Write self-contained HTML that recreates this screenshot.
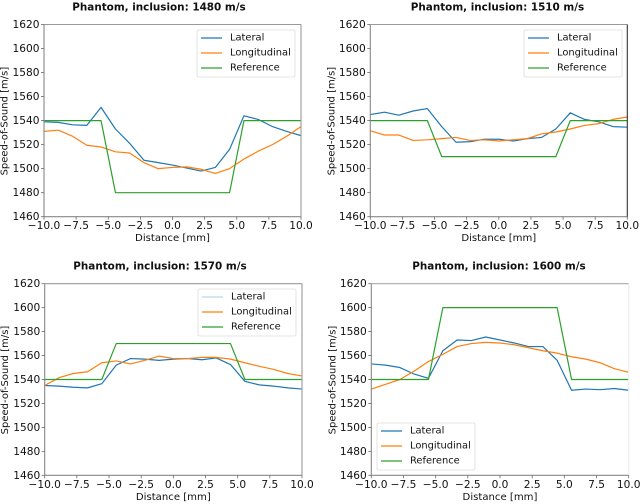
<!DOCTYPE html>
<html>
<head>
<meta charset="utf-8">
<title>Phantom speed-of-sound profiles</title>
<style>
html,body{margin:0;padding:0;background:#fff;}
body{width:640px;height:504px;overflow:hidden;}
svg{display:block;filter:blur(0.35px);}
text{font-family:"DejaVu Sans","Liberation Sans",sans-serif;fill:#111;}
</style>
</head>
<body>
<svg id="figure" width="640" height="504" viewBox="0 0 640 504" xmlns="http://www.w3.org/2000/svg"></svg>
<script>
const distances = [-10,-8.89,-7.78,-6.67,-5.56,-4.44,-3.33,-2.22,-1.11,0,1.11,2.22,3.33,4.44,5.56,6.67,7.78,8.89,10];
const xTickValues = [-10,-7.5,-5,-2.5,0,2.5,5,7.5,10];
const xTickLabels = ["\u221210.0","\u22127.5","\u22125.0","\u22122.5","0.0","2.5","5.0","7.5","10.0"];
const yTickValues = [1460,1480,1500,1520,1540,1560,1580,1600,1620];
const yTickLabels = ["1460","1480","1500","1520","1540","1560","1580","1600","1620"];
const seriesNames = ["Lateral","Longitudinal","Reference"];

const lateral1480 = [1539,1538.5,1536.5,1536,1551,1533,1521,1507,1505,1503,1500.5,1498,1501,1516,1544,1541,1535,1531,1527.5];
const longitudinal1480 = [1531,1532,1527,1519.5,1518,1514,1513,1505,1500,1501,1501.5,1499.5,1496,1500,1508,1514.5,1520,1527,1535];
const reference1480 = [1540,1540,1540,1540,1540,1480,1480,1480,1480,1480,1480,1480,1480,1480,1540,1540,1540,1540,1540];

const lateral1510 = [1545,1547,1544.5,1548,1550,1535,1522,1522.5,1524.5,1524.5,1523,1525,1526,1533,1546.5,1541,1539,1535,1534.5];
const longitudinal1510 = [1531.5,1528,1528,1523.5,1524,1525,1526,1523.5,1524,1523,1524,1525,1529,1530.5,1533,1536,1537.5,1541,1543];
const reference1510 = [1540,1540,1540,1540,1540,1510,1510,1510,1510,1510,1510,1510,1510,1510,1540,1540,1540,1540,1540];

const lateral1570 = [1535,1534.5,1533.5,1533,1536.5,1552,1557.5,1557,1556,1557,1557.5,1556.5,1558,1552.5,1538.5,1535.5,1534.5,1533,1532];
const longitudinal1570 = [1535,1541.5,1545,1546.5,1554,1555.5,1553,1556,1559.5,1557.5,1557.5,1558.5,1558.5,1557,1554,1551,1548.5,1545,1543];
const reference1570 = [1540,1540,1540,1540,1540,1570,1570,1570,1570,1570,1570,1570,1570,1570,1540,1540,1540,1540,1540];

const lateral1600 = [1553,1552,1550,1544.5,1541,1564,1573,1572.5,1575.5,1573,1570.5,1567.5,1567.5,1556,1531,1532,1531.5,1532.5,1531];
const longitudinal1600 = [1532,1536,1540,1547,1555,1561,1567.5,1570,1571,1570.5,1569,1566.5,1564,1562,1559,1557,1554,1549,1546];
const reference1600 = [1540,1540,1540,1540,1540,1600,1600,1600,1600,1600,1600,1600,1600,1600,1540,1540,1540,1540,1540];

const xMin = -10, xMax = 10, yMin = 1460, yMax = 1620;
const NS = "http://www.w3.org/2000/svg";
const fig = document.getElementById("figure");
const colors = ["#1f77b4","#ff7f0e","#2ca02c"];

const panels = [
  {id:"1480",title:"Phantom, inclusion: 1480 m/s",series:[lateral1480,longitudinal1480,reference1480],l:44,r:301,t:24.5,b:216.7,tx:159,ty:7,lx:197,ly:30,ylx:5,lat:"#1f77b4",rs:"#999"},
  {id:"1510",title:"Phantom, inclusion: 1510 m/s",series:[lateral1510,longitudinal1510,reference1510],l:370.3,r:627.3,t:24.5,b:216.7,tx:497.5,ty:7,lx:524,ly:30,ylx:332,lat:"#1f77b4",rs:"#333"},
  {id:"1570",title:"Phantom, inclusion: 1570 m/s",series:[lateral1570,longitudinal1570,reference1570],l:44.7,r:302,t:283.7,b:475.3,tx:160,ty:266,lx:198,ly:289,ylx:5.5,lat:"#bcd8ea",rs:"#999"},
  {id:"1600",title:"Phantom, inclusion: 1600 m/s",series:[lateral1600,longitudinal1600,reference1600],l:371.3,r:628.7,t:283.7,b:475.3,tx:499,ty:266,lx:377,ly:423,ylx:333,lat:"#1f77b4",rs:"#eee"}
];

function make(tag, attrs, parent, text){
  const el = document.createElementNS(NS, tag);
  for (const k in attrs) el.setAttribute(k, attrs[k]);
  if (text !== undefined) el.textContent = text;
  parent.appendChild(el);
  return el;
}

panels.forEach(function(p){
  const xScale = function(v){ return p.l + (v - xMin) / (xMax - xMin) * (p.r - p.l); };
  const yScale = function(v){ return p.b - (v - yMin) / (yMax - yMin) * (p.b - p.t); };

  const g = make("g", {}, fig);
  
  

  const title = make("text", {x:p.tx, y:p.ty+0.5, "text-anchor":"middle", "dominant-baseline":"central", "font-size":"10.4", "font-weight":"bold", fill:"#111"}, g, p.title);
  
  

  const plotBg = make("rect", {x:p.l, y:p.t, width:p.r-p.l, height:p.b-p.t, fill:"#fff"}, g);
  
  

  p.series.forEach(function(vals, i){
    const pts = vals.map(function(v, j){ return xScale(distances[j]).toFixed(2) + "," + yScale(v).toFixed(2); }).join(" ");
    const line = make("polyline", {points:pts, fill:"none", stroke:colors[i], "stroke-width":"1.2", "stroke-linejoin":"round"}, g);
    
    
  });

  const spines = [
    [p.l,p.t,p.l,p.b,"#888","left"],
    [p.l,p.b,p.r,p.b,"#888","bottom"],
    [p.l,p.t,p.r,p.t,p.id==="1600"?"#aaa":"#999","top"],
    [p.r,p.t,p.r,p.b,p.rs,"right"]
  ];
  spines.forEach(function(s){
    const sp = make("line", {x1:s[0],y1:s[1],x2:s[2],y2:s[3],stroke:s[4],"stroke-width":"1.1"}, g);
    
    
  });

  xTickValues.forEach(function(v, i){
    const x = xScale(v);
    const tick = make("line", {x1:x,y1:p.b,x2:x,y2:p.b+3,stroke:"#666","stroke-width":"0.8"}, g);
    
    
    const lab = make("text", {x:x,y:p.b+9.5,"text-anchor":"middle","dominant-baseline":"central","font-size":"10.6"}, g, xTickLabels[i]);
    
    
  });

  yTickValues.forEach(function(v, i){
    const y = yScale(v);
    const tick = make("line", {x1:p.l-3,y1:y,x2:p.l,y2:y,stroke:"#666","stroke-width":"0.8"}, g);
    
    
    const lab = make("text", {x:p.l-4.5,y:y+0.5,"text-anchor":"end","dominant-baseline":"central","font-size":"10.6"}, g, yTickLabels[i]);
    
    
  });

  const xTitle = make("text", {x:(p.l+p.r)/2,y:p.b+22,"text-anchor":"middle","dominant-baseline":"central","font-size":"10.1"}, g, "Distance [mm]");
  
  

  const yc = (p.t+p.b)/2 + 0.5;
  const yTitle = make("text", {x:p.ylx,y:yc,"text-anchor":"middle","dominant-baseline":"central","font-size":"10",transform:"rotate(-90 "+p.ylx+" "+yc+")"}, g, "Speed-of-Sound [m/s]");
  
  

  const leg = make("g", {}, g);
  
  
  const box = make("rect", {x:p.lx,y:p.ly,width:98,height:47,rx:1.5,fill:"#fff",stroke:"#ddd","stroke-width":"0.8"}, leg);
  
  
  seriesNames.forEach(function(n, i){
    const yy = p.ly + 8 + i * 15;
    const swatch = make("line", {x1:p.lx+4,y1:yy,x2:p.lx+25,y2:yy,stroke:i===0?p.lat:colors[i],"stroke-width":"1.2"}, leg);
    
    
    const t = make("text", {x:p.lx+33,y:yy,"dominant-baseline":"central","font-size":"9.9"}, leg, n);
    
    
  });
});
</script>
</body>
</html>
